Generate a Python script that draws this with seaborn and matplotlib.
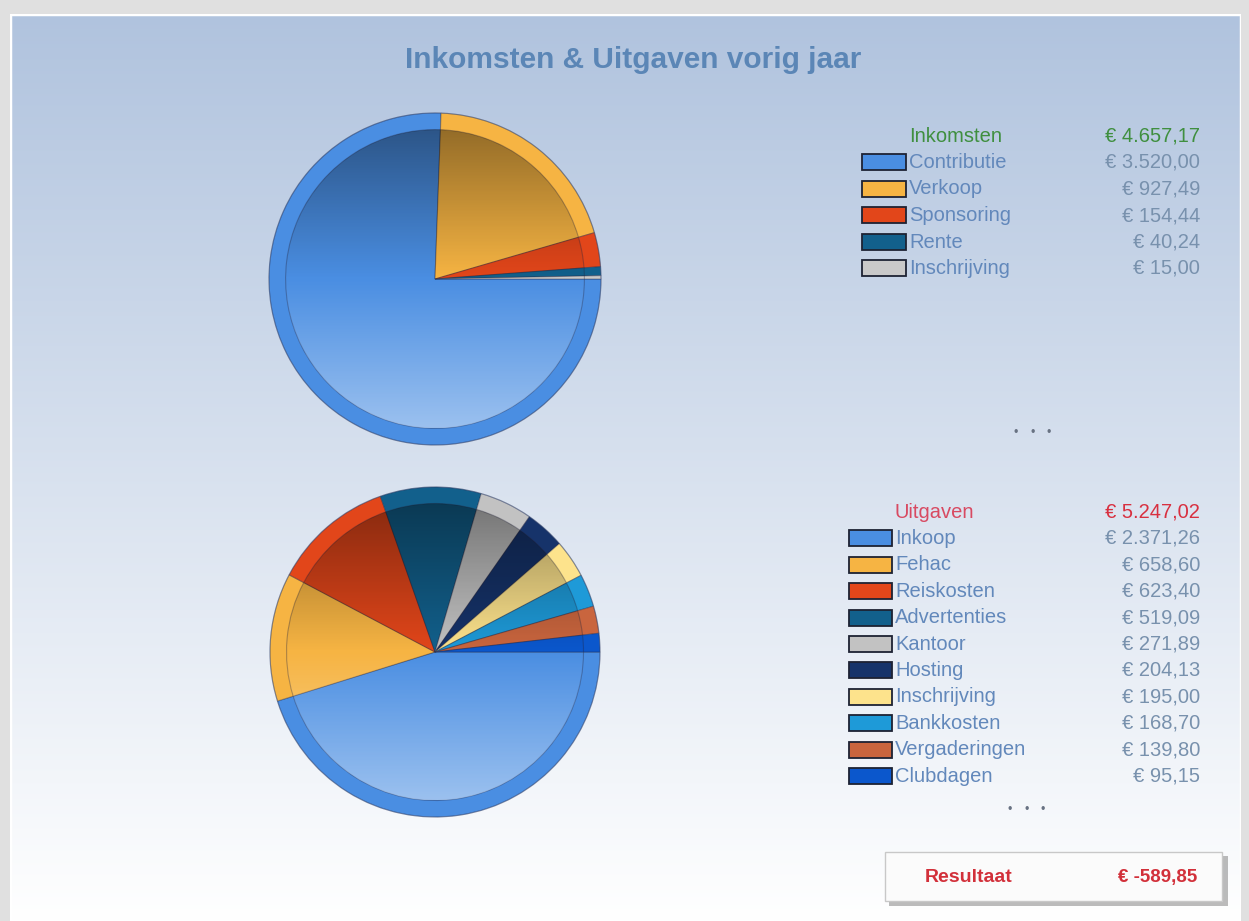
import numpy as np
import matplotlib
matplotlib.use("Agg")
import matplotlib.pyplot as plt
import matplotlib.colors as mcolors
import seaborn as sns
from matplotlib.patches import Rectangle, Circle

# ---------------- data ----------------
title = "Inkomsten & Uitgaven vorig jaar"

inc_header = "Inkomsten"
inc_labels = ["Contributie", "Verkoop", "Sponsoring", "Rente", "Inschrijving"]
inc_values = [3520.00, 927.49, 154.44, 40.24, 15.00]
inc_colors = ["#4a8ee2", "#f6b443", "#e2461a", "#12608c", "#c9c9c9"]

exp_header = "Uitgaven"
exp_labels = ["Inkoop", "Fehac", "Reiskosten", "Advertenties", "Kantoor",
              "Hosting", "Inschrijving", "Bankkosten", "Vergaderingen", "Clubdagen"]
exp_values = [2371.26, 658.60, 623.40, 519.09, 271.89, 204.13, 195.00, 168.70, 139.80, 95.15]
exp_colors = ["#4a8ee2", "#f6b443", "#e2461a", "#12608c", "#c2c2c2",
              "#16336a", "#fde38c", "#1e9ad8", "#c9653e", "#0b57cc"]

result_label = "Resultaat"

# ---------------- style ----------------
sns.set_theme(style="white")
plt.rcParams['font.family'] = ['Liberation Sans', 'DejaVu Sans']

W, H = 1249, 921
fig = plt.figure(figsize=(W / 100, H / 100), dpi=100, facecolor="#e0e0e0")


def fx(x):
    return x / W


def fy(y):
    return 1 - y / H


def eur(v):
    s = f"{v:,.2f}".replace(",", "X").replace(".", ",").replace("X", ".")
    return f"€ {s}"


# ---------------- background panel ----------------
px0, px1, py0 = 10, 1241, 14
bg = fig.add_axes([fx(px0), 0, fx(px1) - fx(px0), fy(py0)])
t = np.linspace(0, 1, 512)[:, None, None]
top = np.array(mcolors.to_rgb("#b0c3de"))
bot = np.array(mcolors.to_rgb("#ffffff"))
img = top * (1 - t) + bot * t
bg.imshow(img, aspect="auto", extent=[0, 1, 0, 1])
bg.add_patch(Rectangle((0, 0), 1, 1, transform=bg.transAxes, fill=False,
                       ec="white", lw=2.5))
bg.set_xlim(0, 1)
bg.set_ylim(0, 1)
bg.axis("off")

# ---------------- title ----------------
fig.text(fx(633), fy(60), title, ha="center", va="center", fontsize=21.5,
         fontweight="bold", color="#5b86b6")


# ---------------- pies ----------------
def draw_pie(cx, cy, r, values, colors):
    pad = 1.04
    size = 2 * r * pad
    ax = fig.add_axes([fx(cx - size / 2), fy(cy + size / 2), size / W, size / H])
    ax.set_facecolor("none")
    edge = dict(edgecolor=(0.15, 0.15, 0.25, 0.35), linewidth=0.8)
    ax.pie(values, colors=colors, startangle=0, counterclock=False,
           radius=1.0, wedgeprops=edge)
    ax.pie(values, colors=colors, startangle=0, counterclock=False,
           radius=0.9, wedgeprops=edge)
    n = 256
    tt = np.linspace(0, 1, n)
    rgba = np.zeros((n, 1, 4))
    dark = np.clip(0.40 * (1 - tt / 0.5), 0, None)
    light = np.clip(0.45 * (tt - 0.5) / 0.5, 0, None)
    rgba[:, 0, :3] = np.where(tt[:, None] < 0.5, 0.0, 1.0)
    rgba[:, 0, 3] = dark + light
    im = ax.imshow(rgba, extent=[-0.9, 0.9, -0.9, 0.9], aspect="auto", zorder=3)
    im.set_clip_path(Circle((0, 0), 0.9, transform=ax.transData))
    ax.add_patch(Circle((0, 0), 1.0, fill=False, ec=(0.2, 0.3, 0.5, 0.35),
                        lw=0.8, zorder=4))
    ax.set_xlim(-pad, pad)
    ax.set_ylim(-pad, pad)
    ax.set_aspect("equal")
    ax.axis("off")
    return ax


draw_pie(435, 279, 166, inc_values, inc_colors)
draw_pie(435, 652, 165, exp_values, exp_colors)


# ---------------- legends ----------------
def legend(y0, step, header, hcolor, vcolor_h, labels, values, colors,
           sw_x, sw_w, txt_x, val_x=1200):
    fs = 14.5
    fig.text(fx(txt_x), fy(y0), header, ha="left", va="center",
             fontsize=fs, color=hcolor)
    fig.text(fx(val_x), fy(y0), eur(sum(values)), ha="right", va="center",
             fontsize=fs, color=vcolor_h)
    for i, (lab, val, col) in enumerate(zip(labels, values, colors)):
        y = y0 + step * (i + 1)
        fig.add_artist(Rectangle((fx(sw_x), fy(y + 8)), sw_w / W, 16 / H,
                                 transform=fig.transFigure, fc=col,
                                 ec="#1d2233", lw=1.3))
        fig.text(fx(txt_x), fy(y), lab, ha="left", va="center",
                 fontsize=fs, color="#6288bb")
        fig.text(fx(val_x), fy(y), eur(val), ha="right", va="center",
                 fontsize=fs, color="#7891ad")


legend(136, 26.5, inc_header, "#3f8f3f", "#3f8f3f", inc_labels, inc_values,
       inc_colors, 862, 44, 909)
legend(512, 26.4, exp_header, "#d84a62", "#d83040", exp_labels, exp_values,
       exp_colors, 849, 43, 895)

# ellipses (three dots each)
for (x0, y0) in [(1016, 433), (1010, 810)]:
    for k in range(3):
        fig.text(fx(x0 + 16.5 * k), fy(y0), "•", ha="center", va="center",
                 fontsize=9, color="#687282")

# ---------------- result box ----------------
fig.add_artist(Rectangle((fx(889), fy(906)), (1228 - 889) / W, (906 - 856) / H,
                         transform=fig.transFigure, fc="#8f8f8f", ec="none",
                         alpha=0.6))
fig.add_artist(Rectangle((fx(885), fy(901)), (1222 - 885) / W, (901 - 852) / H,
                         transform=fig.transFigure, fc="#fbfbfb", ec="#c8c8c8",
                         lw=1))
result = sum(inc_values) - sum(exp_values)
fig.text(fx(925), fy(877), result_label, ha="left", va="center",
         fontsize=14, fontweight="bold", color="#d2303a")
fig.text(fx(1197), fy(877), eur(result), ha="right", va="center",
         fontsize=13.5, fontweight="bold", color="#d2303a")

fig.savefig("out.png", dpi=100, facecolor=fig.get_facecolor())
